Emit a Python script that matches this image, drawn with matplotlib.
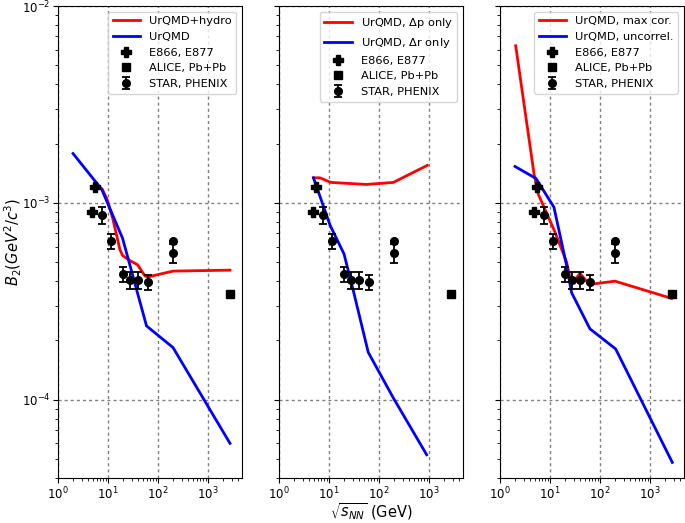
import matplotlib
matplotlib.use('Agg')
import matplotlib.pyplot as plt
import numpy as np

# experimental data (same in every panel)
e866_x = [4.7, 5.4]
e866_y = [9.0e-4, 1.2e-3]

alice_x = [2760]
alice_y = [3.45e-4]

star_x = [7.7, 11.5, 19.6, 27, 39, 62.4, 200, 200]
star_y = [8.7e-4, 6.4e-4, 4.33e-4, 4.05e-4, 4.05e-4, 3.95e-4, 6.4e-4, 5.55e-4]
star_err = [8.5e-5, 5.5e-5, 3.8e-5, 3.8e-5, 3.8e-5, 3.6e-5, 0.0, 6.2e-5]

# panel 1: UrQMD+hydro / UrQMD
hydro_x = [7.7, 9.5, 12.5, 17.3, 19.6, 27, 39, 55, 62.4, 200, 2760]
hydro_y = [1.17e-3, 1.05e-3, 8.3e-4, 5.8e-4, 5.4e-4, 5.1e-4, 4.85e-4, 4.25e-4, 4.2e-4, 4.5e-4, 4.55e-4]
urqmd_x = [2, 7.5, 19.6, 59, 200, 2760]
urqmd_y = [1.78e-3, 1.17e-3, 6.6e-4, 2.37e-4, 1.84e-4, 6.0e-5]

# panel 2: dp only / dr only
dp_x = [4.9, 6.6, 10.8, 56, 194, 927]
dp_y = [1.34e-3, 1.34e-3, 1.27e-3, 1.24e-3, 1.27e-3, 1.55e-3]
dr_x = [4.9, 10.5, 20, 31, 61, 194, 900]
dr_y = [1.34e-3, 7.7e-4, 5.5e-4, 3.54e-4, 1.74e-4, 1.02e-4, 5.25e-5]

# panel 3: max correlation / uncorrelated
maxc_x = [2.06, 4.8, 5.8, 12.6, 21.5, 27, 39.8, 61, 200, 2710]
maxc_y = [6.28e-3, 1.4e-3, 1.11e-3, 7.1e-4, 5.0e-4, 3.85e-4, 4.38e-4, 3.85e-4, 4.0e-4, 3.27e-4]
unc_x = [2, 5.25, 12, 21.5, 27, 63, 206, 2800]
unc_y = [1.53e-3, 1.33e-3, 9.5e-4, 4.8e-4, 3.5e-4, 2.29e-4, 1.81e-4, 4.8e-5]

panels = [
    (hydro_x, hydro_y, 'UrQMD+hydro', urqmd_x, urqmd_y, 'UrQMD'),
    (dp_x, dp_y, r'UrQMD, $\Delta$p only', dr_x, dr_y, r'UrQMD, $\Delta$r only'),
    (maxc_x, maxc_y, 'UrQMD, max cor.', unc_x, unc_y, 'UrQMD, uncorrel.'),
]

fig = plt.figure(figsize=(6.85, 5.23), dpi=100)
lefts = [58 / 685, 279 / 685, 500 / 685]
w = 184 / 685
b = 1 - 478 / 523
h = (478 - 6) / 523

axes = []
for i, (rx, ry, rl, bx, by, bl) in enumerate(panels):
    ax = fig.add_axes([lefts[i], b, w, h])
    ax.plot(rx, ry, color='red', lw=2, label=rl)
    ax.plot(bx, by, color='blue', lw=2, label=bl)
    ax.plot(e866_x, e866_y, 'P', color='black', ms=7, ls='none', label='E866, E877')
    ax.plot(alice_x, alice_y, 's', color='black', ms=5.5, ls='none', label='ALICE, Pb+Pb')
    ax.errorbar(star_x, star_y, yerr=star_err, fmt='o', color='black', ms=5.5,
                capsize=3, elinewidth=1.3, capthick=1.3, label='STAR, PHENIX')
    ax.set_xscale('log')
    ax.set_yscale('log')
    ax.set_xlim(1, 4800)
    ax.set_ylim(4e-5, 1e-2)
    ax.grid(True, which='major', color='gray', linestyle=(0, (2.2, 2.2)), lw=1)
    ax.legend(loc='upper right', fontsize=8.2, handlelength=2.4)
    ax.tick_params(labelsize=8.5, pad=2)
    if i > 0:
        ax.set_yticklabels([])
    axes.append(ax)

axes[0].set_ylabel(r'$B_2 (GeV^2/c^3)$', fontsize=10.5)
axes[0].yaxis.set_label_coords(-0.185, 0.5)
axes[1].set_xlabel(r'$\sqrt{s_{NN}}$ (GeV)', fontsize=10.5)
axes[1].xaxis.set_label_coords(0.5, -0.05)

fig.savefig('out.png', dpi=100)
